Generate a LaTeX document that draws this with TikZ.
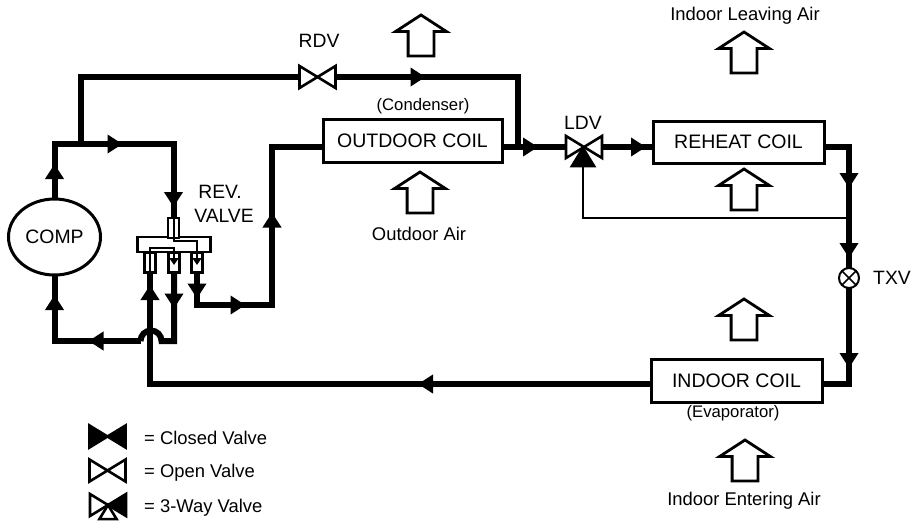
\documentclass[tikz,border=0pt]{standalone}
\usepackage{fontspec}
\setmainfont{Liberation Sans}
\usetikzlibrary{arrows.meta,decorations.markings,shapes.geometric,shapes.arrows}
\tikzset{
 port/.pic={\draw[line width=2.6pt,line join=miter,pic actions] (0,0)--(-18,-11)--(-18,11)--cycle;
  \coordinate (-end) at (-18,0);}
}
\begin{document}
\begin{tikzpicture}[x=1pt,y=-1pt,
 pipe/.style={line width=6pt,line join=miter},
 thinpipe/.style={line width=2.8pt,line join=miter},
 flow/.style={postaction={decorate,decoration={markings,mark=at position #1 with {\arrow{Triangle[length=15pt,width=18pt]}}}}},
 coil/.style={draw,line width=3pt,font=\fontsize{19.5}{22}\selectfont,inner sep=0pt,outer sep=0pt},
 stem/.style={draw,fill=white,line width=2.4pt,minimum width=11pt,minimum height=20pt,inner sep=0pt,outer sep=0pt},
 inner/.style={line width=2pt,-{Triangle[length=7pt,width=9pt]}},
 air/.style={single arrow,draw,line width=2.8pt,anchor=tail,shape border rotate=90,inner sep=11.5pt,outer sep=0pt,
  minimum height=41pt,single arrow head extend=12.5pt,single arrow tip angle=114,single arrow head indent=0pt},
 biglabel/.style={font=\fontsize{19.3}{22}\selectfont,inner sep=0pt},
 label/.style={font=\fontsize{18.4}{22}\selectfont,inner sep=0pt},
 smalllabel/.style={font=\fontsize{16.7}{20}\selectfont,inner sep=0pt}]
\useasboundingbox (0,0) rectangle (917,520);
% coils and compressor
\node[coil,minimum width=179pt,minimum height=43pt] (outcoil) at (412.5,141) {OUTDOOR COIL};
\node[coil,minimum width=171pt,minimum height=42pt] (reheat) at (738.5,142) {REHEAT COIL};
\node[coil,minimum width=171pt,minimum height=43pt] (incoil) at (736.5,380.5) {INDOOR COIL};
\node[draw,ellipse,line width=3pt,minimum width=92pt,minimum height=76pt,inner sep=0pt,outer sep=0pt,font=\fontsize{19.4}{22}\selectfont] (comp) at (54.5,237) {COMP};
% reversing valve
\node[draw,fill=white,line width=2.4pt,minimum width=73pt,minimum height=15pt,inner sep=0pt,outer sep=0pt] (revbody) at (174,244.5) {};
\node[stem] (revtop) at (173.5,228) {};
\node[stem] (revleft) at (150,262.5) {};
\node[stem] (revmid) at (174,262.5) {};
\node[stem] (revright) at (197,262.5) {};
\draw[inner] (revtop.north)--(revtop.center|-revbody.north)--++(0,4)-|(197,265);
\draw[inner] (revleft.south)--(150,248)-|(174,265);
% valves
\pic[fill=white] (rdvw) at (317.5,77) {port};
\pic[fill=white,rotate=180] (rdve) at (317.5,77) {port};
\pic[fill=white] (ldvw) at (584,147) {port};
\pic[fill=white,rotate=180] (ldve) at (584,147) {port};
\pic[fill=black,rotate=90] (ldvb) at (583,148) {port};
\node[circle,draw,fill=white,line width=2pt,minimum size=20pt,inner sep=0pt,outer sep=0pt] (txv) at (849,278) {};
\draw[line width=1.6pt] (txv.north west)--(txv.south east) (txv.north east)--(txv.south west);
% junctions
\coordinate (topjoin) at (81,144);
\coordinate (outjoin) at (518,147);
\coordinate (rejoin) at (849,218);
% pipes
\draw[pipe,flow=35pt,flow=123pt,flow=237pt] (comp.north)--(54.5,144)-|(revtop.north);
\draw[pipe] (topjoin)--(81,77)--(rdvw-end);
\draw[pipe,flow=90pt] (rdve-end)-|(outjoin);
\draw[pipe,flow=36pt] (outcoil.east|-ldvw-end)--(ldvw-end);
\draw[pipe,flow=44pt] (ldve-end)--(reheat.west|-ldve-end);
\draw[pipe,flow=66pt,flow=136pt] (reheat.east|-ldve-end)-|(txv.north);
\draw[pipe,flow=80pt] (txv.south)|-(incoil.east|-0,384);
\draw[pipe,flow=233pt,flow=600pt] (incoil.west|-0,384)-|(revleft.south);
\draw[pipe,flow=36pt] (revmid.south)--(174,341)--(161.5,341) arc[start angle=0,end angle=180,radius=10.5pt];
\draw[pipe,flow=52pt,flow=132pt] (140.5,341)-|(comp.south);
\draw[pipe,flow=26pt,flow=81pt,flow=200pt] (revright.south)--(197,305)-|(272,147)--(outcoil.west|-ldvw-end);
\draw[thinpipe] (rejoin)-|(ldvb-end);
% air arrows
\node[air] (airtop) at (421,56) {};
\node[air] (airleave) at (744,73) {};
\node[air] (airout) at (420,213) {};
\node[air] (airreheat) at (744,210) {};
\node[air] (airin) at (744,340) {};
\node[air] (airenter) at (745,481) {};
% labels
\node[biglabel] (rdvlabel) at (319,41) {RDV};
\node[biglabel] (ldvlabel) at (583,123) {LDV};
\node[biglabel] (txvlabel) at (892,278) {TXV};
\node[biglabel] (revlabel) at (220,192) {REV.};
\node[biglabel] (valvelabel) at (224,216) {VALVE};
\node[smalllabel] (condlabel) at (423,106) {(Condenser)};
\node[smalllabel] (evaplabel) at (733,413) {(Evaporator)};
\node[label] (leavelabel) at (745,16) {Indoor Leaving Air};
\node[label] (outlabel) at (419,234) {Outdoor Air};
\node[label] (enterlabel) at (744,501) {Indoor Entering Air};
% legend
\pic[fill=black] (closedw) at (107.5,436.5) {port};
\pic[fill=black,rotate=180] (closede) at (107.5,436.5) {port};
\pic[fill=white] (openw) at (107.5,470.5) {port};
\pic[fill=white,rotate=180] (opene) at (107.5,470.5) {port};
\pic[fill=white] (threew) at (108,505) {port};
\pic[fill=black,rotate=180] (threee) at (108,505) {port};
\pic[fill=white,rotate=90,scale=.78] (threeb) at (108,505) {port};
\node[label,anchor=west] (closedlabel) at (144,438) {= Closed Valve};
\node[label,anchor=west] (openlabel) at (144,473) {= Open Valve};
\node[label,anchor=west] (threelabel) at (144,508) {= 3-Way Valve};
\end{tikzpicture}
\end{document}
